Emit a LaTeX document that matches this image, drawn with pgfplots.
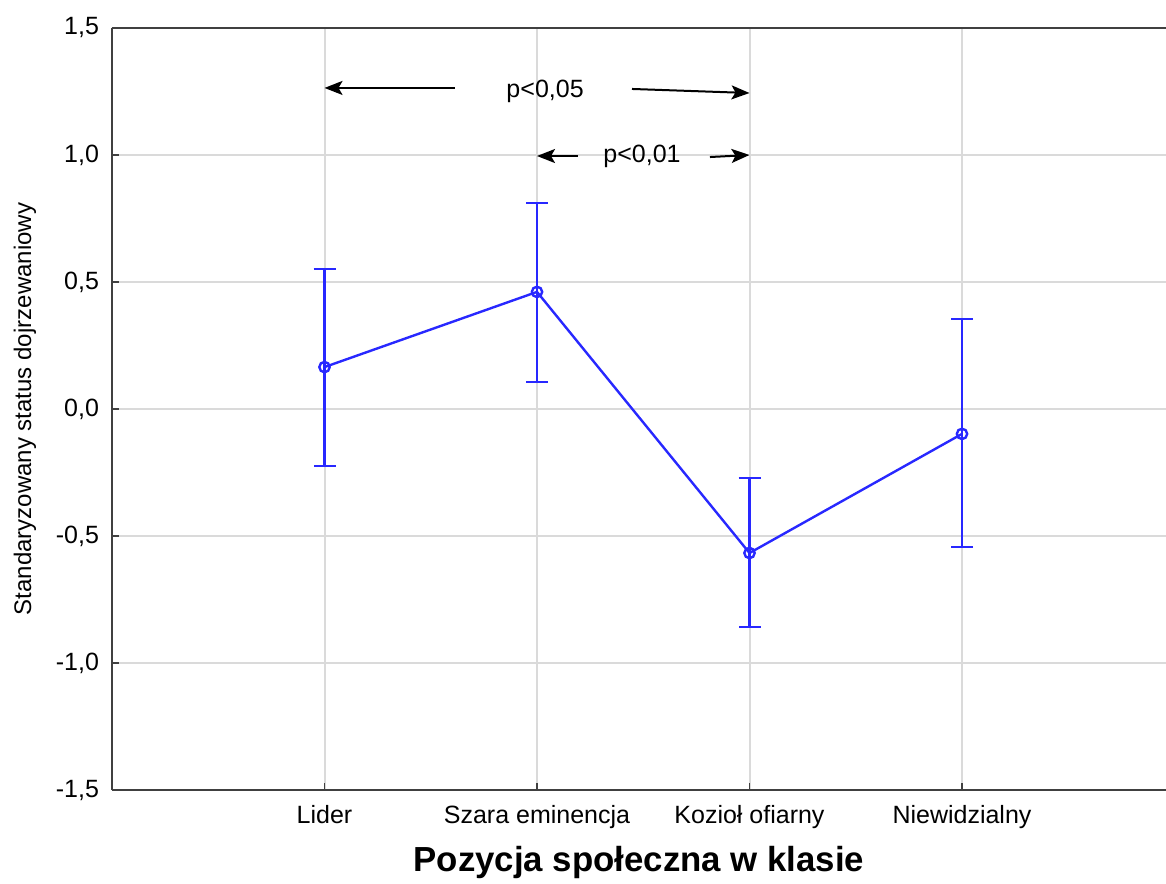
\documentclass[border=0pt]{standalone}
\usepackage{pgfplots}
\pgfplotsset{compat=1.18}
\usepackage{fontspec}
\setmainfont{Liberation Sans}
\usetikzlibrary{arrows.meta}
\definecolor{serie}{RGB}{40,40,255}
\definecolor{gridc}{RGB}{218,218,218}
\begin{document}
\begin{tikzpicture}
\begin{axis}[name=ax, scale only axis, width=527pt, height=381pt,
  xmin=0, xmax=4.96, ymin=-1.5, ymax=1.5,
  axis x line*=box, axis y line*=left,
  xtick={1,2,3,4},
  xticklabels={Lider, Szara eminencja, Kozioł ofiarny, Niewidzialny},
  xtick pos=bottom,
  ytick={-1.5,-1,-0.5,0,0.5,1,1.5},
  grid=major, major grid style={gridc, line width=1pt},
  axis line style={black!75, line width=1pt},
  tick style={black!75, line width=0.8pt},
  major tick length=3.5pt,
  tick label style={font=\fontsize{12.5}{15}\selectfont},
  xticklabel style={yshift=-4pt},
  yticklabel style={xshift=-3pt},
  yticklabel={\pgfmathprintnumber[fixed, fixed zerofill, precision=1, use comma, assume math mode=true]{\tick}},
  xlabel={\textbf{Pozycja społeczna w klasie}},
  xlabel style={at={(rel axis cs:0.5,0)}, anchor=center, yshift=-36pt, font=\fontsize{17.4}{20}\selectfont},
  ylabel={Standaryzowany status dojrzewaniowy},
  ylabel style={at={(rel axis cs:-0.0825,0.5)}, anchor=center, font=\fontsize{12}{14}\selectfont},
]
\addplot[serie, line width=1.2pt, mark=o, mark size=2.6pt, mark options={line width=1.2pt},
  error bars/.cd, y dir=both, y explicit,
  error bar style={line width=1.2pt},
  error mark options={rotate=90, mark size=5.5pt, line width=1.2pt}]
coordinates {
(1,0.165) += (0,0.386) -= (0,0.389)
(2,0.461) += (0,0.350) -= (0,0.355)
(3,-0.567) += (0,0.295) -= (0,0.291)
(4,-0.098) += (0,0.452) -= (0,0.445)
};
\draw[-{Stealth[length=9pt,width=7pt,inset=2pt]}, line width=1pt] (axis cs:1.614,1.264) -- (axis cs:1.0,1.264);
\draw[-{Stealth[length=9pt,width=7pt,inset=2pt]}, line width=1pt] (axis cs:2.447,1.260) -- (axis cs:3.0,1.244);
\draw[-{Stealth[length=9pt,width=7pt,inset=2pt]}, line width=1pt] (axis cs:2.193,0.996) -- (axis cs:2.0,0.996);
\draw[-{Stealth[length=9pt,width=7pt,inset=2pt]}, line width=1pt] (axis cs:2.814,0.992) -- (axis cs:3.0,1.0);
\node[font=\fontsize{12.5}{15}\selectfont] at (axis cs:2.038,1.252) {p<0,05};
\node[font=\fontsize{12.5}{15}\selectfont] at (axis cs:2.494,0.996) {p<0,01};
\end{axis}
\pgfresetboundingbox
\path ([xshift=-56pt,yshift=-46.5pt]ax.south west) rectangle ([yshift=14pt]ax.north east);
\end{tikzpicture}
\end{document}
